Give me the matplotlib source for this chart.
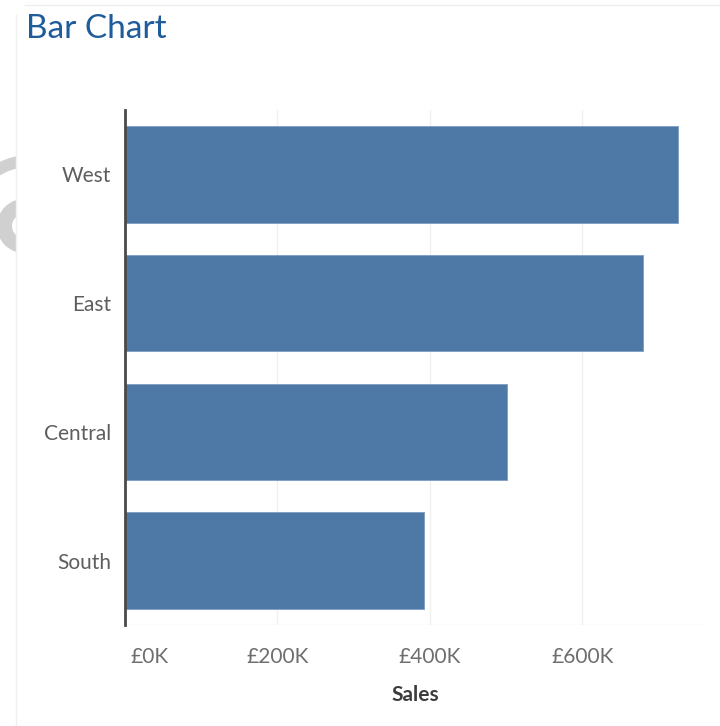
import matplotlib.pyplot as plt
import matplotlib.transforms as mtransforms
from matplotlib.patches import Wedge, Rectangle
from matplotlib.lines import Line2D

regions = ['West', 'East', 'Central', 'South']
sales = [725458, 678781, 501240, 391722]
tick_vals = [0, 200000, 400000, 600000]
tick_labels = ['£0K', '£200K', '£400K', '£600K']

W, H = 720, 726
fig = plt.figure(figsize=(W / 100, H / 100), dpi=100)
fig.patch.set_facecolor('white')

# panel frame lines
fig.add_artist(Line2D([25 / W, 1], [1 - 5 / H, 1 - 5 / H], color='#efefef', lw=1))
fig.add_artist(Line2D([16 / W, 16 / W], [0, 1 - 15 / H], color='#efefef', lw=1))

# grey icon peeking in at the left edge
clip = Rectangle((0, 0), 16, H, transform=None)
for w in [Wedge((30, H - 225), 70, 60, 150, width=12, transform=None),
          Wedge((24, H - 226), 27, 0, 360, width=15, transform=None)]:
    w.set_facecolor('#d0d0d0')
    w.set_edgecolor('none')
    fig.add_artist(w)
    w.set_clip_path(clip)

fig.text(26 / W, 1 - 29 / H, 'Bar Chart', color='#1f5c9b', fontsize=24,
         family='Lato', va='center', ha='left')

ax = fig.add_axes([125 / W, 1 - 625 / H, 580 / W, 515 / H])
ypos = list(range(len(regions)))
ax.barh(ypos, sales, height=0.75, color='#4e79a7', edgecolor='#7d9dc2', lw=0.6, zorder=3)
ax.set_ylim(3.5, -0.5)
ax.set_xlim(0, 760700)

ax.set_yticks(ypos)
ax.set_yticklabels(regions, fontsize=15, color='#5e5e5e', family='Lato')
ax.set_xticks(tick_vals)
ax.set_xticklabels(tick_labels, fontsize=15, color='#6e6e6e', family='Lato')
ax.tick_params(length=0)
ax.tick_params(axis='y', pad=10)
ax.tick_params(axis='x', pad=16)
first = ax.get_xticklabels()[0]
first.set_horizontalalignment('left')
first.set_transform(first.get_transform() + mtransforms.ScaledTranslation(5 / 100, 0, fig.dpi_scale_trans))

ax.grid(axis='x', color='#f0f0f0', lw=1, zorder=0)
ax.axhline(3.5, color='#ececec', lw=1, zorder=1)
for s in ['top', 'right', 'bottom']:
    ax.spines[s].set_visible(False)
ax.spines['left'].set_color('#4a4a4a')
ax.spines['left'].set_linewidth(2)
ax.spines['left'].set_zorder(4)

ax.set_xlabel('Sales', fontsize=15, fontweight='bold', color='#3c3c3c',
              family='Lato', labelpad=13)

fig.savefig('out.png', dpi=100)
